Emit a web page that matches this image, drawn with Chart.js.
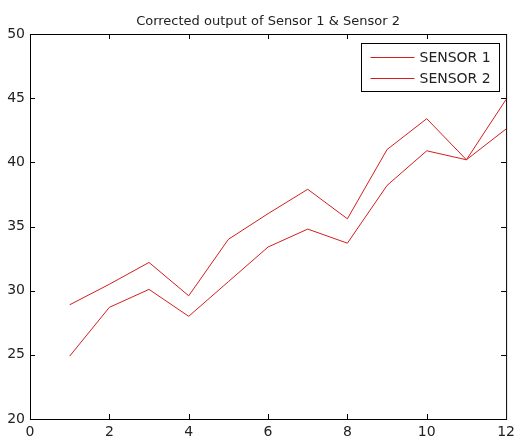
<!DOCTYPE html>
<html>
<head>
<meta charset="utf-8">
<script src="https://cdn.jsdelivr.net/npm/chart.js@4.4.1/dist/chart.umd.min.js"></script>
<style>
body { margin: 0; background: #fff; }
#wrap { width: 520px; height: 439px; }
</style>
</head>
<body>
<div id="wrap"><canvas id="sensor-chart" width="520" height="439"></canvas></div>
<script>
var chartTitle = 'Corrected output of Sensor 1 & Sensor 2';
var seriesNames = ['SENSOR 1', 'SENSOR 2'];
var xValues = [1, 2, 3, 4, 5, 6, 7, 8, 9, 10, 11, 12];
var sensor1 = [28.9, 30.5, 32.2, 29.6, 34.0, 36.0, 37.9, 35.6, 41.0, 43.4, 40.2, 44.9];
var sensor2 = [24.9, 28.7, 30.1, 28.0, 30.7, 33.4, 34.8, 33.7, 38.2, 40.9, 40.2, 42.6];
var xTicks = [0, 2, 4, 6, 8, 10, 12];
var yTicks = [20, 25, 30, 35, 40, 45, 50];

var lineColor = 'rgb(210, 30, 30)';
var textColor = '#222';
var fontName = '"DejaVu Sans", sans-serif';

function toPoints(ys) {
    return xValues.map(function(x, i) { return { x: x, y: ys[i] }; });
}

// box, inward ticks, legend and title in the old plot style
var framePlugin = {
    id: 'frame',
    afterDraw: function(chart) {
        var ctx = chart.ctx;
        var a = chart.chartArea;
        var xs = chart.scales.x;
        var ys = chart.scales.y;
        var tl = 5;
        ctx.save();
        ctx.strokeStyle = '#000';
        ctx.lineWidth = 1;
        ctx.strokeRect(a.left + 0.5, a.top + 0.5, a.right - a.left, a.bottom - a.top);
        ctx.beginPath();
        xTicks.slice(1, -1).forEach(function(v) {
            var px = Math.round(xs.getPixelForValue(v)) + 0.5;
            ctx.moveTo(px, a.bottom); ctx.lineTo(px, a.bottom - tl);
            ctx.moveTo(px, a.top); ctx.lineTo(px, a.top + tl);
        });
        yTicks.slice(1, -1).forEach(function(v) {
            var py = Math.round(ys.getPixelForValue(v)) + 0.5;
            ctx.moveTo(a.left, py); ctx.lineTo(a.left + tl, py);
            ctx.moveTo(a.right, py); ctx.lineTo(a.right - tl, py);
        });
        ctx.stroke();

        // legend
        var bw = 138, bh = 48;
        var bx = Math.round(a.right - 7 - bw) + 0.5;
        var by = Math.round(a.top + 9) + 0.5;
        ctx.fillStyle = '#fff';
        ctx.fillRect(bx, by, bw, bh);
        ctx.strokeRect(bx, by, bw, bh);
        ctx.font = '14px ' + fontName;
        ctx.textBaseline = 'middle';
        ctx.textAlign = 'left';
        seriesNames.forEach(function(name, i) {
            var ry = Math.round(by + 13 + i * 21) + 0.5;
            ctx.strokeStyle = lineColor;
            ctx.beginPath();
            ctx.moveTo(bx + 9, ry);
            ctx.lineTo(bx + 53, ry);
            ctx.stroke();
            ctx.fillStyle = textColor;
            ctx.fillText(name, bx + 58, ry + 1);
        });

        // title
        ctx.font = '13px ' + fontName;
        ctx.textAlign = 'center';
        ctx.textBaseline = 'alphabetic';
        ctx.fillStyle = textColor;
        ctx.fillText(chartTitle, (a.left + a.right) / 2, 25);
        ctx.restore();
    }
};

document.addEventListener("DOMContentLoaded", function() {
    var ctx = document.getElementById('sensor-chart').getContext('2d');
    var sensorChart = new Chart(ctx, {
        type: 'line',
        data: {
            datasets: [{
                label: seriesNames[0],
                data: toPoints(sensor1),
                borderColor: lineColor,
                borderWidth: 1,
                pointRadius: 0,
                fill: false
            }, {
                label: seriesNames[1],
                data: toPoints(sensor2),
                borderColor: lineColor,
                borderWidth: 1,
                pointRadius: 0,
                fill: false
            }]
        },
        options: {
            responsive: false,
            animation: false,
            layout: { padding: { top: 34, right: 8, left: 0, bottom: 0 } },
            plugins: {
                legend: { display: false },
                tooltip: { enabled: false },
                title: { display: false }
            },
            scales: {
                x: {
                    type: 'linear',
                    min: 0,
                    max: 12,
                    grid: { display: false, drawTicks: false },
                    border: { display: false },
                    afterBuildTicks: function(scale) {
                        scale.ticks = xTicks.map(function(v) { return { value: v }; });
                    },
                    afterFit: function(scale) { scale.height = 20; },
                    ticks: {
                        color: textColor,
                        padding: 5,
                        maxRotation: 0,
                        font: { family: fontName, size: 14 }
                    }
                },
                y: {
                    min: 20,
                    max: 50,
                    grid: { display: false, drawTicks: false },
                    border: { display: false },
                    afterBuildTicks: function(scale) {
                        scale.ticks = yTicks.map(function(v) { return { value: v }; });
                    },
                    afterFit: function(scale) { scale.width = 30; },
                    ticks: {
                        color: textColor,
                        padding: 5,
                        font: { family: fontName, size: 14 }
                    }
                }
            }
        },
        plugins: [framePlugin]
    });
});
</script>
</body>
</html>
